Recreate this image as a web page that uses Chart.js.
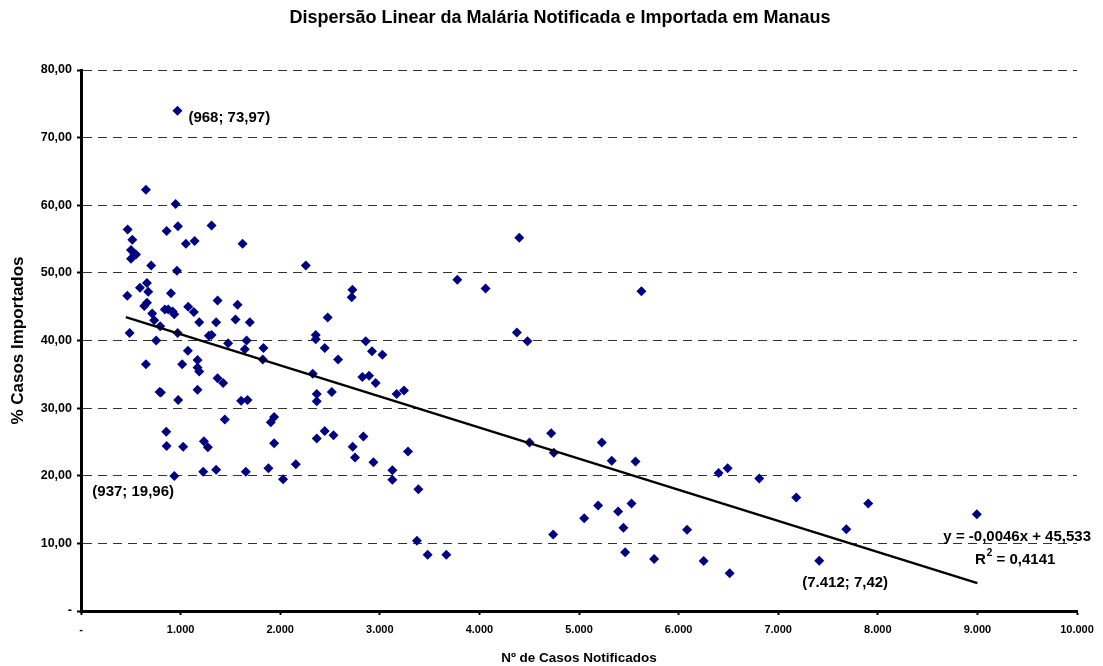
<!DOCTYPE html>
<html>
<head>
<meta charset="utf-8">
<script src="https://cdn.jsdelivr.net/npm/chart.js@4.4.0/dist/chart.umd.min.js"></script>
<style>
  html, body { margin: 0; padding: 0; background: #fff; }
  #wrap { width: 1103px; height: 666px; position: relative; }
</style>
</head>
<body>
<div id="wrap"><canvas id="chart" width="1103" height="666"></canvas></div>
<script>
// casos notificados (x) e % importados (y)
const notificados = [
  652, 950, 468, 860, 973, 1311, 515, 1053, 1141, 1622,
  502, 535, 552, 502, 705, 963, 662, 592, 675, 465,
  903, 635, 662, 715, 842, 876, 936, 1076, 1133, 1371,
  1572, 920, 735, 795, 1187, 1357, 1551, 1695, 488, 755,
  970, 1284, 1311, 1477, 1662, 1645, 1832, 1825, 1073, 652,
  1016, 1170, 1170, 1187, 1371, 1427, 789, 802, 1170, 976,
  1608, 1672, 1939, 1906, 1444, 856, 860, 1026, 1234, 1274,
  1939, 937, 1227, 1357, 1655, 1882, 968,
  2257, 3778, 2725, 2718, 2477, 2357, 2357, 2447, 2581, 2859,
  2922, 3026, 2327, 2825, 2892, 2959, 2367, 2367, 2518, 3169,
  3243, 2367, 2447, 2535, 2835, 2728, 2751, 2936, 3283, 2157,
  2029, 3126, 3126, 3387,
  4400, 4062, 5627, 4376, 4483, 3373, 3480, 3668, 4503, 4721,
  4747, 4741, 5052, 5192, 5229, 5329, 5393, 5446, 5463, 5527,
  5567, 5754,
  6402, 6492, 6810, 7181, 6085, 6252, 6513, 7904, 8994, 7684, 7412
];
const importados = [
  62.3, 60.2, 56.4, 56.2, 56.9, 57.0, 54.9, 54.3, 54.7, 54.3,
  53.4, 52.8, 52.7, 52.1, 51.1, 50.3, 48.5, 47.8, 47.2, 46.6,
  47.0, 45.1, 45.6, 44.0, 44.6, 44.6, 43.9, 45.0, 44.2, 45.9,
  45.3, 44.3, 43.0, 42.1, 42.7, 42.7, 43.1, 42.7, 41.1, 40.0,
  41.1, 40.7, 40.8, 39.6, 40.0, 38.7, 38.9, 37.2, 38.5, 36.5,
  36.5, 37.1, 36.0, 35.4, 34.4, 33.7, 32.4, 32.3, 32.7, 31.2,
  31.1, 31.2, 28.7, 27.9, 28.3, 26.5, 24.4, 24.3, 25.1, 24.2,
  24.8, 19.96, 20.6, 20.9, 20.6, 21.1, 73.97,
  51.1, 49.0, 47.5, 46.4, 43.4, 40.8, 40.2, 38.9, 37.2, 39.9,
  38.4, 37.9, 35.1, 34.6, 34.8, 33.7, 32.1, 31.0, 32.4, 32.1,
  32.6, 25.5, 26.6, 26.0, 25.8, 24.3, 22.7, 22.0, 23.6, 21.7,
  19.5, 20.8, 19.4, 18.0,
  55.2, 47.7, 47.3, 41.2, 39.9, 10.4, 8.3, 8.3, 24.9, 26.3,
  23.4, 11.3, 13.7, 15.6, 24.9, 22.2, 14.7, 12.3, 8.7, 15.9,
  22.1, 7.7,
  20.4, 21.1, 19.6, 16.8, 12.0, 7.4, 5.6, 15.9, 14.3, 12.1, 7.42
];

// linha de tendência (extremos)
const trendX = [450, 9000];
const trendY = [43.46, 4.13];

// rótulos de pontos destacados
const labelX = [968, 937, 7412];
const labelY = [73.97, 19.96, 7.42];
const labelText = ['(968; 73,97)', '(937; 19,96)', '(7.412; 7,42)'];

const equationText = 'y = -0,0046x + 45,533';
const r2Text = '0,4141';

const FONT = 'Arial, "Liberation Sans", sans-serif';

function fmtY(v) {
  if (v === 0) return '-';
  return v.toFixed(2).replace('.', ',');
}
function fmtX(v) {
  if (v === 0) return '-';
  return v.toLocaleString('de-DE');
}

const annotations = {
  id: 'annotations',
  afterDatasetsDraw(chart) {
    const { ctx, scales: { x, y } } = chart;
    ctx.save();
    ctx.fillStyle = '#000';
    ctx.font = 'bold 15px ' + FONT;
    ctx.textBaseline = 'middle';
    ctx.textAlign = 'left';
    const offs = [[11, 7], [-82, 16], [-17, 22]];
    labelX.forEach((lx, i) => {
      const px = x.getPixelForValue(lx);
      const py = y.getPixelForValue(labelY[i]);
      ctx.fillText(labelText[i], px + offs[i][0], py + offs[i][1]);
    });
    // equação e R²
    ctx.textAlign = 'right';
    ctx.fillText(equationText, 1091, 537);
    ctx.textAlign = 'left';
    const rx = 975;
    ctx.fillText('R', rx, 560);
    const rw = ctx.measureText('R').width;
    ctx.font = 'bold 10px ' + FONT;
    ctx.fillText('2', rx + rw + 1, 553);
    const sw = ctx.measureText('2').width;
    ctx.font = 'bold 15px ' + FONT;
    ctx.fillText(' = ' + r2Text, rx + rw + sw + 1, 560);
    // título
    ctx.textAlign = 'center';
    ctx.font = 'bold 18px ' + FONT;
    ctx.fillText('Dispersão Linear da Malária Notificada e Importada em Manaus', 560, 18);
    ctx.restore();
  }
};

new Chart(document.getElementById('chart'), {
  type: 'scatter',
  data: {
    datasets: [
      {
        label: 'Casos',
        data: notificados.map((v, i) => ({ x: v, y: importados[i] })),
        pointStyle: 'rectRot',
        pointRadius: 5,
        pointBackgroundColor: '#000080',
        pointBorderColor: '#000080',
        pointBorderWidth: 0,
        order: 2
      },
      {
        label: 'Tendência',
        type: 'line',
        data: trendX.map((v, i) => ({ x: v, y: trendY[i] })),
        borderColor: '#000',
        borderWidth: 2.5,
        pointRadius: 0,
        fill: false,
        order: 1
      }
    ]
  },
  options: {
    responsive: false,
    animation: false,
    layout: { padding: { top: 70, right: 26, left: 0, bottom: 0 } },
    plugins: {
      legend: { display: false },
      tooltip: { enabled: false }
    },
    scales: {
      x: {
        type: 'linear',
        min: 0,
        max: 10000,
        afterFit(scale) { scale.height = 55; },
        ticks: {
          stepSize: 1000,
          callback: fmtX,
          color: '#000',
          font: { family: FONT, size: 11, weight: 'bold' },
          padding: 8
        },
        grid: {
          drawOnChartArea: false,
          drawTicks: true,
          tickLength: 4,
          tickWidth: 2,
          tickColor: '#000'
        },
        border: { color: '#000', width: 3 },
        title: {
          display: true,
          text: 'Nº de Casos Notificados',
          color: '#000',
          font: { family: FONT, size: 13.5, weight: 'bold' },
          padding: { top: 4, bottom: 0 }
        }
      },
      y: {
        type: 'linear',
        min: 0,
        max: 80,
        afterFit(scale) { scale.width = 81; },
        ticks: {
          stepSize: 10,
          callback: fmtY,
          color: '#000',
          font: { family: FONT, size: 12.5, weight: 'bold' },
          padding: 5
        },
        grid: {
          color: '#333',
          lineWidth: 1,
          drawTicks: true,
          tickLength: 4,
          tickWidth: 2,
          tickColor: '#000'
        },
        border: { color: '#000', width: 3, dash: [9, 6] },
        title: {
          display: true,
          text: '% Casos Importados',
          color: '#000',
          font: { family: FONT, size: 17, weight: 'bold' },
          padding: { top: 8, bottom: 0 }
        }
      }
    }
  },
  plugins: [annotations]
});
</script>
</body>
</html>
